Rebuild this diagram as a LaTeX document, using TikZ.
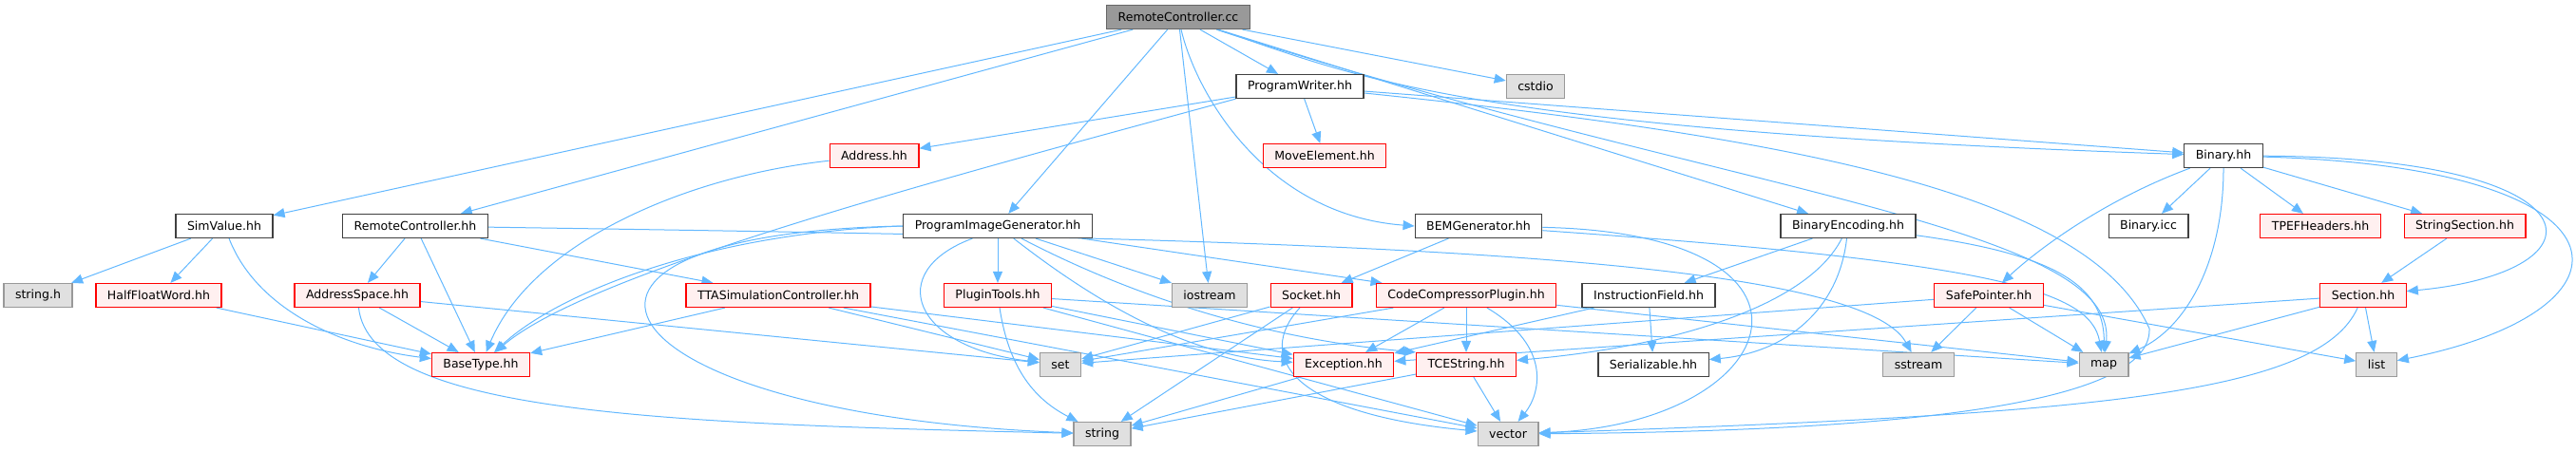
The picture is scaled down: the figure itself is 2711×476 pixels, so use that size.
\documentclass[tikz,border=0pt]{standalone}
\usepackage{fontspec}
\setmainfont{DejaVu Sans}
\usetikzlibrary{arrows.meta}
\definecolor{edgeblue}{RGB}{99,184,255}
\definecolor{rootfill}{RGB}{153,153,153}
\definecolor{redfill}{RGB}{255,240,240}
\definecolor{sysfill}{RGB}{224,224,224}
\pgfdeclarelayer{background}
\pgfsetlayers{background,main}
\tikzset{
  file/.style={draw, line width=0.9pt, inner xsep=9pt, inner ysep=0pt,
    minimum height=18.75pt, font=\fontsize{9.4}{11}\selectfont},
  rootfile/.style={file, fill=rootfill, draw=black!60},
  docfile/.style={file, fill=white, draw=black!75},
  redfile/.style={file, fill=redfill, draw=red},
  sysfile/.style={file, fill=sysfill, draw=black!40},
  incl/.style={draw=edgeblue, line width=0.75pt, -{Triangle[length=9pt,width=7.5pt]}}
}

\begin{document}
\begin{tikzpicture}[x=0.75pt,y=0.75pt]
\useasboundingbox (0,0) rectangle (2711,476);
% row 1
\node[rootfile] (rcc) at (1240,458) {RemoteController.cc};
% row 2
\node[docfile] (pw) at (1368,385) {ProgramWriter.hh};
\node[sysfile] (cstdio) at (1616,385) {cstdio};
% row 3
\node[redfile] (addr) at (920,312) {Address.hh};
\node[redfile] (moveel) at (1394,312) {MoveElement.hh};
\node[docfile] (binary) at (2340,312) {Binary.hh};
% row 4
\node[docfile] (simval) at (236,238) {SimValue.hh};
\node[docfile] (rch) at (437,238) {RemoteController.hh};
\node[docfile] (pig) at (1050,238) {ProgramImageGenerator.hh};
\node[docfile] (bem) at (1556,238) {BEMGenerator.hh};
\node[docfile] (binenc) at (1945,238) {BinaryEncoding.hh};
\node[docfile] (binicc) at (2261,238) {Binary.icc};
\node[redfile] (tpef) at (2442,238) {TPEFHeaders.hh};
\node[redfile] (strsec) at (2594,238) {StringSection.hh};
% row 5
\node[sysfile] (stringh) at (40,165) {string.h};
\node[redfile] (halffw) at (167,165) {HalfFloatWord.hh};
\node[redfile] (addrsp) at (376,165) {AddressSpace.hh};
\node[redfile] (ttasim) at (819,165) {TTASimulationController.hh};
\node[redfile] (plugtools) at (1050,165) {PluginTools.hh};
\node[sysfile] (iostream) at (1273,165) {iostream};
\node[redfile] (socket) at (1380,165) {Socket.hh};
\node[redfile] (ccp) at (1543,165) {CodeCompressorPlugin.hh};
\node[docfile] (instrfld) at (1735,165) {InstructionField.hh};
\node[redfile] (safeptr) at (2093,165) {SafePointer.hh};
\node[redfile] (section) at (2487,165) {Section.hh};
% row 6
\node[redfile] (basetype) at (506,92) {BaseType.hh};
\node[sysfile] (set) at (1116,92) {set};
\node[redfile] (exception) at (1414,92) {Exception.hh};
\node[redfile] (tcestring) at (1543,92) {TCEString.hh};
\node[docfile] (serial) at (1740,92) {Serializable.hh};
\node[sysfile] (sstream) at (2019,92) {sstream};
\node[sysfile] (map) at (2214,92) {map};
\node[sysfile] (list) at (2501,92) {list};
% row 7
\node[sysfile] (string) at (1160,19) {string};
\node[sysfile] (vector) at (1587,19) {vector};

\begin{pgfonlayer}{background}
% RemoteController.cc
\draw[incl] (rcc) -- (simval);
\draw[incl] (rcc) -- (rch);
\draw[incl] (rcc) -- (pig);
\draw[incl] (rcc) -- (iostream);
\draw[incl] (rcc) .. controls (1258,380) and (1330,250) .. (bem.west);
\draw[incl] (rcc) -- (pw);
\draw[incl] (rcc) -- (cstdio);
\draw[incl] (rcc) .. controls (1420,400) and (1520,340) .. (binary);
\draw[incl] (rcc) -- (binenc);
\draw[incl] (rcc) .. controls (1800,276) and (2230,240) .. (map);
% ProgramWriter.hh
\draw[incl] (pw) -- (addr);
\draw[incl] (pw) -- (moveel);
\draw[incl] (pw.south west) .. controls (1000,290) and (620,190) .. (basetype);
\draw[incl] (pw) -- (binary);
\draw[incl] (pw) .. controls (1900,330) and (2200,270) .. (2262,130)
  .. controls (2265,50) and (2000,22) .. (vector);
\draw[incl] (addr) .. controls (720,290) and (560,220) .. (basetype);
% left part
\draw[incl] (simval) -- (stringh);
\draw[incl] (simval) -- (halffw);
\draw[incl] (simval) .. controls (270,150) and (360,110) .. (basetype);
\draw[incl] (halffw) -- (basetype);
\draw[incl] (rch) -- (addrsp);
\draw[incl] (rch) -- (basetype);
\draw[incl] (rch) -- (ttasim);
\draw[incl] (rch) .. controls (1300,225) and (1950,215) .. (sstream);
\draw[incl] (addrsp) -- (basetype);
\draw[incl] (addrsp) -- (set);
\draw[incl] (addrsp) .. controls (390,40) and (700,30) .. (string);
\draw[incl] (ttasim) -- (basetype);
\draw[incl] (ttasim) -- (set);
\draw[incl] (ttasim) -- (exception);
\draw[incl] (ttasim) -- (vector);
% ProgramImageGenerator.hh
\draw[incl] (pig.west) .. controls (750,231) and (590,170) .. (basetype);
\draw[incl] (pig.west) .. controls (520,230) and (620,40) .. (string);
\draw[incl] ([xshift=-20pt]pig.south) .. controls (930,190) and (960,110) .. (set);
\draw[incl] (pig) -- (plugtools);
\draw[incl] (pig) -- (iostream);
\draw[incl] (pig) .. controls (1150,160) and (1250,100) .. (exception);
\draw[incl] (pig) -- (ccp);
\draw[incl] (pig) .. controls (1180,170) and (1320,120) .. (tcestring.north west);
\draw[incl] (plugtools) .. controls (1060,100) and (1080,60) .. (string);
\draw[incl] (plugtools) -- (exception);
\draw[incl] (plugtools) -- (map);
\draw[incl] (plugtools) -- (vector);
% BEMGenerator.hh
\draw[incl] (bem) -- (socket);
\draw[incl] (bem) .. controls (2100,200) and (2200,170) .. (map);
\draw[incl] (bem) .. controls (1950,230) and (1880,30) .. (vector);
\draw[incl] (socket) -- (set);
\draw[incl] (socket) -- (string);
\draw[incl] (socket) .. controls (1320,100) and (1360,40) .. (vector);
\draw[incl] (ccp) -- (exception);
\draw[incl] (ccp) -- (tcestring);
\draw[incl] (ccp) .. controls (1635,110) and (1620,60) .. (vector);
\draw[incl] (ccp) -- (set);
\draw[incl] (ccp) -- (map);
% BinaryEncoding.hh
\draw[incl] (binenc) -- (instrfld);
\draw[incl] (binenc) .. controls (1935,150) and (1880,105) .. (serial);
\draw[incl] (binenc) .. controls (1900,150) and (1750,110) .. (tcestring);
\draw[incl] (binenc) .. controls (2150,210) and (2215,180) .. (map);
\draw[incl] (instrfld) -- (serial);
\draw[incl] (instrfld) -- (exception);
% Binary.hh
\draw[incl] (binary) .. controls (2200,260) and (2130,200) .. (safeptr);
\draw[incl] (binary) -- (binicc);
\draw[incl] (binary) .. controls (2340,200) and (2300,130) .. (map);
\draw[incl] (binary) -- (tpef);
\draw[incl] (binary) -- (strsec);
\draw[incl] (binary) .. controls (2740,310) and (2750,190) .. (section);
\draw[incl] (binary) .. controls (2780,300) and (2790,150) .. (list);
\draw[incl] (strsec) -- (section);
\draw[incl] (safeptr) -- (sstream);
\draw[incl] (safeptr) -- (map);
\draw[incl] (safeptr) -- (list);
\draw[incl] (safeptr) -- (set);
\draw[incl] (section) -- (map);
\draw[incl] (section) -- (list);
\draw[incl] (section) -- (exception);
\draw[incl] (section) .. controls (2440,60) and (2200,40) .. (vector);
% bottom rows
\draw[incl] (exception) -- (string);
\draw[incl] (tcestring) -- (string);
\draw[incl] (tcestring) -- (vector);
\end{pgfonlayer}
\end{tikzpicture}
\end{document}
